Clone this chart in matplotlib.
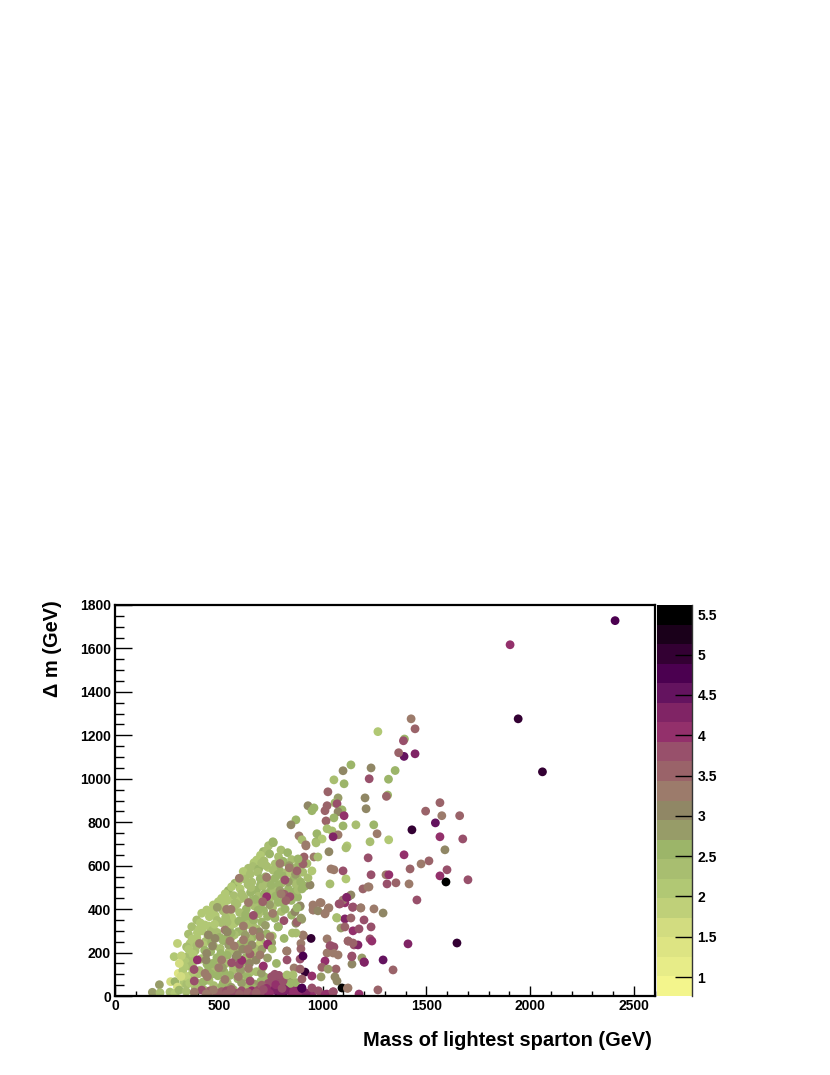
import numpy as np
import matplotlib
matplotlib.use('Agg')
import matplotlib.pyplot as plt
from matplotlib.colors import ListedColormap, BoundaryNorm

plt.rcParams['font.family'] = ['Liberation Sans', 'DejaVu Sans']
plt.rcParams['font.weight'] = 'bold'

# points are (mass, delta m, z), grouped by region of the cloud
# dense green part, drawn first
upper_body = [(740,692,2.4),(763,706,2.5),(800,672,2.3),(715,665,2.6),(731,669,2.4),(701,648,2.2),(745,654,2.5),(788,641,2.4),(832,660,2.6),
 (683,626,2.1),(670,614,2.2),(718,622,2.4),(772,608,2.3),(812,617,2.5),(851,628,2.4),(884,605,2.1),(643,588,2.4),(618,573,2.0),(664,596,2.3),
 (693,585,2.5),(707,612,2.4),(738,592,2.2),(793,578,2.6),(828,569,2.4),(866,588,2.3),(622,556,2.1),(652,561,2.4),(688,570,2.3),(726,549,2.6),
 (762,579,2.4),(809,552,2.5),(846,566,2.2),(879,541,2.4),(578,519,2.6),(596,530,2.2),(628,538,2.3),(659,524,2.4),(701,512,2.5),(733,527,2.3),
 (770,541,2.6),(803,519,2.4),(858,533,2.5),(546,485,2.5),(562,503,2.0),(603,494,2.2),(641,513,2.4),(682,488,2.5),(712,505,2.3),(751,486,2.4),
 (788,510,2.6),(836,492,2.5),(872,514,2.4),(514,450,2.0),(531,471,2.1),(572,462,2.3),(607,448,2.2),(653,476,2.5),(691,459,2.4),(737,472,2.6),
 (766,483,2.3),(812,455,2.5),(498,434,2.0),(507,418,2.1),(543,441,2.2),(579,428,2.4),(622,452,2.3),(658,437,2.5),(703,421,2.6),(746,449,2.4),(784,431,2.5)]
lower_body = [(474,419,2.2),(472,398,2.1),(513,409,2.2),(552,388,2.0),(588,423,2.4),(633,401,2.5),(671,415,2.3),(716,393,2.6),(759,407,2.4),
 (442,396,2.1),(418,381,2.2),(483,371,2.0),(521,392,2.3),(562,362,2.2),(601,384,2.4),(647,355,2.5),(692,378,2.3),(735,366,2.6),(802,389,2.4),(851,372,2.5),
 (394,350,2.3),(411,337,2.1),(452,322,2.2),(493,348,2.3),(533,361,2.4),(574,333,2.2),(622,352,2.5),(664,324,2.4),(707,341,2.6),(771,358,2.5),
 (370,319,2.3),(397,291,2.0),(433,327,2.2),(471,303,2.3),(512,338,2.4),(553,316,2.2),(594,296,2.5),(641,329,2.4),(683,308,2.3),(731,286,2.5),
 (354,285,2.4),(372,262,2.1),(407,309,2.2),(448,278,2.4),(491,293,2.3),(529,261,2.5),(576,282,2.4),(616,301,2.6),(662,269,2.5),(703,254,2.3),(758,276,2.4),
 (362,242,2.0),(394,268,2.2),(436,251,2.3),(476,229,2.4),(521,255,2.5),(563,274,2.3),(606,241,2.6),(649,261,2.4),(692,233,1.8),
 (301,242,1.8),(345,226,2.3),(386,208,2.4),(426,236,2.2),(466,247,2.5),(507,219,2.4),(549,203,2.3),(592,228,2.6),(637,245,2.5),(681,214,2.4),
 (285,181,2.1),(321,150,2.4),(349,181,2.3),(376,193,2.2),(417,172,2.4),(461,204,2.5),(502,163,2.3),(541,187,2.6),(586,206,2.4),(631,178,2.5),(672,199,2.3),
 (338,158,2.2),(372,141,2.4),(411,169,2.3),(452,127,2.5),(491,176,2.6),(532,149,2.4),(577,133,2.5),(622,165,2.3),(663,182,2.4)]
base_body = [(305,104,1.4),(327,118,2.1),(362,136,2.3),(401,102,2.4),(443,147,2.5),(486,124,2.3),(526,111,2.6),(567,143,2.4),(612,152,2.5),(651,109,2.4),(711,131,2.5),
 (332,71,1.8),(366,94,2.3),(407,117,2.4),(447,83,2.5),(492,108,2.3),(533,76,2.6),(571,121,2.4),(612,98,2.5),(681,112,2.4),(722,87,2.6),
 (268,66,1.7),(289,66,2.5),(331,58,2.2),(372,85,2.4),(412,47,2.5),(453,72,2.3),(496,93,2.6),(541,61,2.4),(592,79,2.5),(643,44,2.3),(703,68,2.6),
 (214,52,2.8),(301,41,1.6),(346,54,2.3),(387,38,2.4),(431,26,2.5),(476,48,2.4),(522,61,2.6),(571,29,2.5),(623,36,2.4),(683,27,2.7),
 (180,17,2.8),(217,15,2.3),(265,18,2.4),(289,12,2.2),(309,27,2.7),(343,21,2.4),(382,14,2.5),(431,24,2.4),(482,9,2.6),(532,18,2.5)]

# second layer that fills the gaps in the cloud
fill_body = [(355,215,2.2),(378,160,2.4),(395,232,2.3),(420,300,2.1),(432,210,2.5),(455,365,2.0),(458,290,2.3),(470,150,2.6),(480,330,2.2),(505,270,2.5),
 (510,195,2.7),(518,130,2.8),(525,425,2.1),(540,340,2.4),(548,235,2.9),(555,95,2.7),(560,290,2.6),(575,405,2.3),(583,180,3.0),(597,345,2.5),
 (605,120,2.9),(610,470,2.3),(615,215,3.0),(628,280,2.8),(630,375,2.6),(640,85,2.7),(648,150,3.0),(655,500,2.4),(660,235,3.1),(668,350,2.6),
 (672,55,2.8),(675,445,2.5),(680,165,3.0),(690,395,2.7),(695,295,3.0),(700,540,2.5),(705,105,2.8),(708,215,2.9),(720,470,2.7),(725,325,2.9),
 (728,600,2.4),(735,175,2.8),(745,420,2.8),(752,510,2.7),(755,245,2.9),(768,375,2.6),(775,460,2.7),(778,150,2.7),(785,560,2.6),(795,485,2.8),
 (805,430,2.6),(810,620,2.7),(815,265,2.6),(820,400,2.5),(835,525,2.8),(840,600,2.8),(850,440,2.6),(855,290,2.4),(865,480,2.7),(870,560,2.8),
 (880,455,2.5),(885,600,2.7),(895,525,2.6),(905,570,2.4),(915,505,2.6),(925,610,2.3),(320,185,1.9),(335,135,2.0),(310,150,1.7),(345,90,1.8),
 (360,60,2.0),(375,110,2.2),(318,90,1.6),(395,60,2.3),(425,65,2.5),(465,100,2.7),(515,45,2.6),(560,40,2.8),(610,60,2.9),(660,40,2.7)]

# browner and redder points inside the cloud
mid_left = [(407,242,3.3),(397,166,4.0),(381,122,3.7),(382,69,3.8),(450,281,3.1),(482,265,3.0),(493,408,2.9),(538,399,3.3),(559,399,3.3),(599,542,3.3),
 (643,430,3.2),(667,371,3.8),(619,322,3.3),(530,304,3.2),(541,295,3.1),(554,253,3.3),(442,196,3.0),(439,166,3.0),(434,104,3.4),(445,89,3.3),
 (514,166,3.3),(562,153,3.8),(599,146,3.9),(611,164,4.0),(530,76,3.2),(594,89,3.3),(651,193,3.5),(643,127,3.2),(619,258,3.2),(699,273,3.2),
 (747,273,3.2),(736,239,4.0),(715,138,4.1),(699,189,3.3),(470,230,3.1),(500,130,3.2),(575,230,3.2),(590,190,3.1),(640,215,3.2),(665,300,3.2)]
mid_right = [(731,546,3.3),(819,534,3.9),(731,457,4.0),(712,434,3.5),(816,468,3.5),(843,457,3.7),(824,439,3.6),(814,347,3.8),(787,319,3.0),(827,207,3.2),
 (872,335,3.1),(908,278,3.4),(896,242,3.3),(892,170,3.9),(829,166,3.9),(956,411,3.2),(956,396,3.2),(988,430,3.3),(1028,404,3.3),(1012,381,3.4),
 (867,388,3.0),(900,353,2.8),(892,411,2.6),(786,318,2.7),(737,235,4.0),(829,207,3.2),(757,217,2.4),(896,217,3.5),(906,281,3.4),(877,341,3.5),
 (906,608,3.5),(877,576,3.5),(882,488,2.4),(940,511,3.0),(930,544,2.4),(911,640,3.6),(882,631,2.5),(954,419,3.3),(954,396,3.3),(978,392,3.0),
 (1012,378,3.4),(993,429,3.4),(1031,406,3.3),(892,415,3.0),(877,406,2.7),(896,359,2.8),(795,610,3.3),(840,590,3.4),(800,470,3.3),(760,380,3.3)]

# band along the bottom axis
band = [(418,27,3.8),(458,24,3.6),(514,20,3.6),(538,24,3.9),(570,17,3.7),(610,24,3.9),(635,12,3.8),(659,24,4.0),(691,27,3.7),(723,20,4.2),
 (755,40,4.1),(787,15,4.5),(819,23,4.6),(851,12,4.0),(867,35,4.2),(948,7,4.0),(980,24,3.9),(1020,9,4.1),(1052,20,3.8),(755,89,3.8),
 (795,81,4.0),(779,58,3.9),(739,58,3.8),(651,69,3.9),(707,50,3.5),(763,66,3.9),(811,50,3.7),(843,73,3.0),(382,18,3.4),(440,10,3.3),
 (490,14,3.6),(535,9,3.5),(585,12,3.7),(640,16,3.6),(670,6,3.8),(700,11,3.9),(730,35,4.0),(770,28,4.2),(800,8,4.3),(830,30,4.4),
 (860,22,4.1),(890,9,4.0),(920,14,4.3),(1000,6,3.8),(1040,5,3.9),(845,58,2.5),(870,62,2.6),(901,37,4.7),(819,28,4.4),(949,37,3.7),(900,35,4.7),
 (745,12,4.0),(775,52,4.0),(805,35,3.9),(715,30,3.8),(680,15,3.6),(600,8,3.5),(560,30,3.6),(475,28,3.4),(790,95,3.7),(770,100,3.9),(810,70,3.8)]

# isolated points on the right side
far_points = [(2410,1728,4.7),(1904,1617,3.95),(1943,1276,4.9),(2060,1032,4.9),(1427,1276,3.4),(1446,1230,3.6),(1267,1217,2.1),(1395,1183,2.5),(1390,1175,3.9),
 (1446,1115,4.3),(1393,1103,4.6),(1367,1120,3.6),(1350,1038,2.5),(1318,998,2.5),(1234,1050,3.0),(1225,1000,3.8),(1314,925,2.6),(1308,919,3.5),(1566,890,3.6),
 (1497,851,3.5),(1575,830,3.3),(1661,830,3.5),(1544,797,4.5),(1431,765,5.0),(1247,788,2.5),(1263,747,3.2),(1229,710,2.3),(1319,719,2.1),(1566,733,4.0),
 (1676,723,3.9),(1590,673,3.0),(1393,650,4.0),(1220,636,3.8),(1513,622,3.5),(1475,608,3.3),(1422,585,3.6),(1600,581,3.8),(1566,553,4.0),(1595,525,5.5),
 (1701,535,3.9),(1306,558,3.2),(1320,558,4.0),(1234,558,3.8),(1311,516,3.9),(1354,521,3.6),(1417,516,3.3),(1224,502,3.4),(1455,442,3.8),(1248,401,3.3),
 (1292,382,3.1),(1234,318,3.9),(1229,263,3.9),(1238,253,4.1),(1412,240,4.2),(1648,244,4.9),(1292,166,4.5),(1340,120,3.6),(1267,28,3.5)]
upper_points = [(1137,1064,2.6),(1099,1037,3.0),(1104,977,2.5),(1055,995,2.4),(1026,940,3.5),(1075,912,2.8),(1205,912,3.0),(930,876,3.0),(959,866,2.5),(949,853,2.5),
 (1060,889,2.6),(1070,885,3.8),(1022,876,3.6),(1012,853,3.5),(1094,857,2.5),(1075,848,3.0),(1104,830,4.0),(1210,862,3.0),(1055,820,2.5),(1017,806,3.6),
 (872,811,2.5),(848,788,3.0),(1161,788,2.4),(1099,783,2.5),(973,747,2.5),(1022,770,2.4),(1046,760,2.4),(1075,742,3.3),(1051,733,4.4),(887,737,3.4),
 (901,719,2.4),(1118,691,2.2),(969,710,2.5),(998,723,2.2),(761,710,2.5),(920,696,3.2),(920,691,3.3),(969,705,2.4),(1113,682,2.4),(1031,664,3.0),
 (959,640,3.2),(978,640,2.4),(949,576,2.1),(1041,585,3.3),(1055,581,3.2),(1099,576,3.8),(1113,539,2.2),(1036,516,2.3),(901,493,2.5),(1123,456,4.4),
 (1137,465,3.1),(1195,493,3.6),(1219,502,3.4),(1080,424,3.8),(1108,429,4.0),(1099,442,3.3),(1147,410,3.8),(1185,406,3.4),(1070,359,2.4),(1108,355,4.2),
 (1137,359,3.5),(1200,350,3.9)]
lower_points = [(872,290,2.3),(1089,313,2.9),(1108,318,3.5),(1147,300,4.0),(1176,309,3.9),(1123,253,3.5),(1152,235,3.8),(1171,235,4.3),(1147,244,3.6),
 (945,265,4.9),(1022,263,3.3),(1036,230,3.9),(1055,226,3.7),(1022,198,3.4),(1051,198,3.4),(1075,189,3.4),(906,184,4.8),(1012,161,4.0),(997,132,3.5),
 (1142,184,3.8),(1190,175,2.8),(1200,157,4.2),(1142,147,3.0),(1065,124,3.6),(1027,124,2.9),(916,110,4.9),(949,92,4.0),(901,78,3.6),(863,129,3.4),
 (892,124,3.5),(993,88,2.8),(1060,88,3.0),(1070,69,3.0),(858,97,2.3),(829,97,2.4),(1094,37,5.5),(1123,37,3.4),(1176,9,4.0),(1051,18,3.8),(1012,5,4.0),
 (1084,424,3.8),(1116,454,4.4),(1068,361,2.4),(1145,408,3.8),(1184,405,3.4),(1124,253,3.5),(1141,181,3.8),(1202,155,4.2),(1039,232,3.9),(1120,35,3.4)]

palette = ['#f3f58c','#e7ec88','#dde483','#d2dc80','#bfd079','#b1c874','#a8be70','#9cb569','#979c68','#908765',
           '#9c7b6b','#9a6369','#98506b','#93306b','#802465','#64135f','#4b0050','#330033','#1a001a','#000000']
levels = np.linspace(0.765, 5.615, len(palette) + 1)
cbar_ticks = [1, 1.5, 2, 2.5, 3, 3.5, 4, 4.5, 5, 5.5]
cbar_labels = ['1', '1.5', '2', '2.5', '3', '3.5', '4', '4.5', '5', '5.5']

points = np.array(upper_body + lower_body + base_body + fill_body + mid_left + mid_right + band + far_points + upper_points + lower_points)
x, y, z = points[:, 0], points[:, 1], points[:, 2]

fig = plt.figure(figsize=(8.3, 10.75), dpi=100)
ax = fig.add_axes([115/830, 1-996/1075, 539.5/830, 391/1075])
cax = fig.add_axes([657/830, 1-996/1075, 35/830, 391/1075])

cmap = ListedColormap(palette)
norm = BoundaryNorm(levels, cmap.N)
sc = ax.scatter(x, y, c=z, s=40, cmap=cmap, norm=norm, linewidths=0, zorder=2)

ax.set_xlim(0, 2600)
ax.set_ylim(0, 1800)
ax.set_xticks(np.arange(0, 2501, 500))
ax.set_xticks(np.arange(0, 2601, 100), minor=True)
ax.set_yticks(np.arange(0, 1801, 200))
ax.set_yticks(np.arange(0, 1801, 50), minor=True)
ax.tick_params(axis='x', which='major', direction='in', length=7.5, width=1.0, labelsize=10, pad=2)
ax.tick_params(axis='x', which='minor', direction='in', length=3.8, width=1.0)
ax.tick_params(axis='y', which='major', direction='in', length=12.5, width=1.0, labelsize=10, pad=3)
ax.tick_params(axis='y', which='minor', direction='in', length=6.5, width=1.0)
for s in ax.spines.values():
    s.set_linewidth(1.6)

fig.text(652/830, 1-1040/1075, 'Mass of lightest sparton (GeV)', ha='right', va='center', fontsize=14.4, fontweight='bold')
fig.text(52/830, 1-600/1075, 'Δ m (GeV)', rotation=90, ha='center', va='top', fontsize=14.4, fontweight='bold')

cb = fig.colorbar(sc, cax=cax, boundaries=levels, spacing='proportional', ticks=cbar_ticks)
cb.ax.set_yticklabels(cbar_labels)
cb.ax.minorticks_off()
cb.ax.tick_params(direction='in', length=12, width=1.0, labelsize=10, pad=4, color='black')
cb.outline.set_visible(False)
cax.plot([1, 1], [0, 1], transform=cax.transAxes, color='#333333', lw=1.0, clip_on=False)

fig.savefig('out.png', dpi=100)
